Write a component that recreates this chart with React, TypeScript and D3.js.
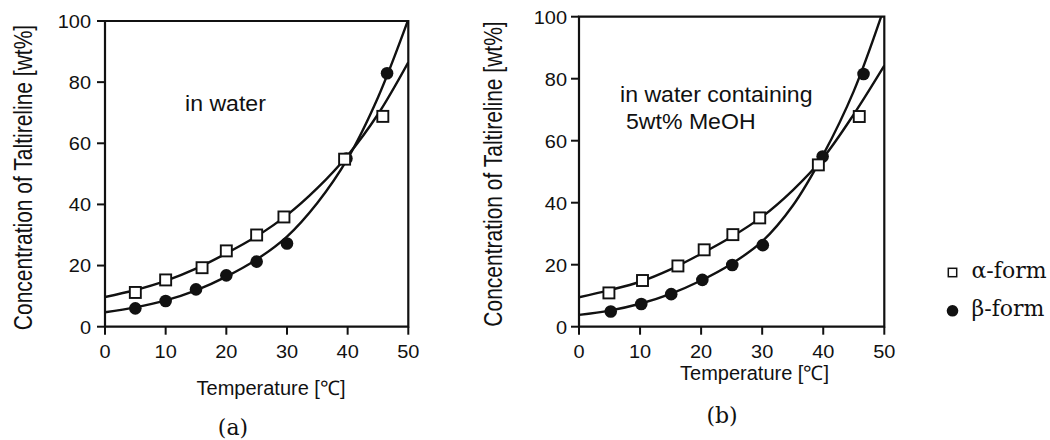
import React from "react";
import * as d3 from "d3";

// ---- data ----
const fitTemps = [0, 5, 10, 15, 20, 25, 30, 35, 40, 45, 50];
const xTicks = [0, 10, 20, 30, 40, 50];
const yTicks = [0, 20, 40, 60, 80, 100];

// Panel (a): in water
const alphaTempA = [5, 10, 16, 20, 25, 29.5, 39.5, 45.8];
const alphaConcA = [11.2, 15.3, 19.3, 24.8, 30.0, 35.9, 54.8, 68.8];
const betaTempA = [5, 10, 15, 20, 25, 30, 39.8, 46.5];
const betaConcA = [6.0, 8.4, 12.2, 16.8, 21.3, 27.2, 55.0, 82.9];
const alphaFitA = [9.7, 12.0, 15.0, 19.0, 24.0, 29.6, 36.5, 45.3, 56.0, 69.5, 86.5];
const betaFitA = [4.7, 6.3, 8.6, 11.9, 16.4, 22.0, 29.5, 40.5, 55.0, 75.0, 100.5];

// Panel (b): in water containing 5wt% MeOH
const alphaTempB = [4.9, 10.4, 16.2, 20.5, 25.2, 29.6, 39.2, 45.9];
const alphaConcB = [10.9, 14.9, 19.6, 24.8, 29.7, 35.1, 52.2, 67.8];
const betaTempB = [5.2, 10.2, 15.1, 20.2, 25.1, 30.1, 39.9, 46.6];
const betaConcB = [4.9, 7.3, 10.5, 15.1, 19.9, 26.3, 54.9, 81.5];
const alphaFitB = [9.5, 11.8, 14.5, 18.5, 23.5, 29.0, 35.5, 44.0, 54.5, 68.5, 84.2];
const betaFitB = [3.8, 5.2, 7.4, 10.6, 14.9, 20.3, 27.5, 39.0, 55.5, 76.0, 103.0];

const legendLabels = ["α-form", "β-form"];
const panelLabels = ["(a)", "(b)"];
const noteA = ["in water"];
const noteB = ["in water containing", "5wt% MeOH"];
const xTitle = "Temperature [℃]";
const yTitle = "Concentration of Taltireline [wt%]";

// ---- styling ----
const SANS = "'Liberation Sans', Arial, Helvetica, sans-serif";
const SERIF = "'DejaVu Serif', 'Liberation Serif', serif";
const INK = "#111";

type PanelProps = {
  id: string;
  x0: number;
  x1: number;
  yTop: number;
  yBottom: number;
  alphaT: number[];
  alphaC: number[];
  betaT: number[];
  betaC: number[];
  alphaFit: number[];
  betaFit: number[];
  note: string[];
  noteX: number[];
  noteY: number[];
  yLabelGap: number;
  yTitleX: number;
  yTitleY: number;
  xTitleX: number;
  xTitleY: number;
  label: string;
  labelX: number;
  labelY: number;
};

function SText(props: {
  x: number;
  y: number;
  anchor?: string;
  size: number;
  family?: string;
  dy?: string;
  sx?: number;
  children: React.ReactNode;
}) {
  const { x, y, anchor = "start", size, family = SANS, dy, sx = 1, children } = props;
  return (
    <text
      transform={`translate(${x},${y}) scale(${sx},1)`}
      textAnchor={anchor}
      fontSize={size}
      fontFamily={family}
      dy={dy}
      fill={INK}
    >
      {children}
    </text>
  );
}

function Panel(p: PanelProps) {
  const x = d3.scaleLinear().domain([0, 50]).range([p.x0, p.x1]);
  const y = d3.scaleLinear().domain([0, 100]).range([p.yBottom, p.yTop]);
  const line = d3
    .line<[number, number]>()
    .x((d) => x(d[0]))
    .y((d) => y(d[1]))
    .curve(d3.curveCatmullRom.alpha(0.5));
  const aFit = line(fitTemps.map((t, i) => [t, p.alphaFit[i]] as [number, number])) || "";
  const bFit = line(fitTemps.map((t, i) => [t, p.betaFit[i]] as [number, number])) || "";
  const tick = 8;
  const sq = 11;
  return (
    <g>
      <defs>
        <clipPath id={`clip-${p.id}`}>
          <rect x={p.x0} y={p.yTop} width={p.x1 - p.x0} height={p.yBottom - p.yTop} />
        </clipPath>
      </defs>
      {/* frame */}
      <path
        d={`M${p.x0},${p.yTop}H${p.x1}V${p.yBottom}H${p.x0}Z`}
        fill="none"
        stroke={INK}
        strokeWidth={2.2}
      />
      {/* y ticks */}
      {yTicks.map((v) => (
        <g key={`yt${v}`}>
          <line x1={p.x0 - tick} x2={p.x0} y1={y(v)} y2={y(v)} stroke={INK} strokeWidth={2} />
          <SText x={p.x0 - p.yLabelGap} y={y(v)} anchor="end" size={19} dy="0.36em" sx={1.05}>
            {v}
          </SText>
        </g>
      ))}
      {/* x ticks */}
      {xTicks.map((v) => (
        <g key={`xt${v}`}>
          <line x1={x(v)} x2={x(v)} y1={p.yBottom} y2={p.yBottom + tick} stroke={INK} strokeWidth={2} />
          <SText x={x(v)} y={p.yBottom + 31} anchor="middle" size={19} sx={1.05}>
            {v}
          </SText>
        </g>
      ))}
      {/* fitted curves */}
      <g clipPath={`url(#clip-${p.id})`}>
        <path d={aFit} fill="none" stroke={INK} strokeWidth={2.4} />
        <path d={bFit} fill="none" stroke={INK} strokeWidth={2.4} />
      </g>
      {/* beta points */}
      {p.betaT.map((t, i) => (
        <circle key={`b${i}`} cx={x(t)} cy={y(p.betaC[i])} r={6.3} fill={INK} />
      ))}
      {/* alpha points */}
      {p.alphaT.map((t, i) => (
        <rect
          key={`a${i}`}
          x={x(t) - sq / 2}
          y={y(p.alphaC[i]) - sq / 2}
          width={sq}
          height={sq}
          fill="#fff"
          stroke={INK}
          strokeWidth={1.9}
        />
      ))}
      {/* note */}
      {p.note.map((s, i) => (
        <SText key={`n${i}`} x={p.noteX[i]} y={p.noteY[i]} size={22} sx={1.05}>
          {s}
        </SText>
      ))}
      {/* axis titles */}
      <text
        transform={`translate(${p.yTitleX},${p.yTitleY}) rotate(-90) scale(1,1.2)`}
        textAnchor="middle"
        fontSize={21}
        fontFamily={SANS}
        fill={INK}
      >
        {yTitle}
      </text>
      <SText x={p.xTitleX} y={p.xTitleY} anchor="middle" size={20}>
        {xTitle}
      </SText>
      <SText x={p.labelX} y={p.labelY} anchor="middle" size={22} family={SERIF}>
        {p.label}
      </SText>
    </g>
  );
}

export default function App() {
  return (
    <svg
      width={1050}
      height={440}
      viewBox="0 0 1050 440"
      style={{ position: "absolute", left: 0, top: 0, background: "#fff" }}
    >
      <rect x={0} y={0} width={1050} height={440} fill="#fff" />
      <Panel
        id="a"
        x0={105}
        x1={408.3}
        yTop={21}
        yBottom={326.7}
        alphaT={alphaTempA}
        alphaC={alphaConcA}
        betaT={betaTempA}
        betaC={betaConcA}
        alphaFit={alphaFitA}
        betaFit={betaFitA}
        note={noteA}
        noteX={[185]}
        noteY={[111]}
        yLabelGap={14}
        yTitleX={32}
        yTitleY={177.5}
        xTitleX={271}
        xTitleY={395}
        label={panelLabels[0]}
        labelX={233}
        labelY={435}
      />
      <Panel
        id="b"
        x0={579}
        x1={884.3}
        yTop={16.7}
        yBottom={326.7}
        alphaT={alphaTempB}
        alphaC={alphaConcB}
        betaT={betaTempB}
        betaC={betaConcB}
        alphaFit={alphaFitB}
        betaFit={betaFitB}
        note={noteB}
        noteX={[620, 626]}
        noteY={[102, 129]}
        yLabelGap={12}
        yTitleX={502}
        yTitleY={174}
        xTitleX={754.5}
        xTitleY={380}
        label={panelLabels[1]}
        labelX={722}
        labelY={423}
      />
      {/* legend */}
      <rect x={948.3} y={268.3} width={8.4} height={8.4} fill="#fff" stroke={INK} strokeWidth={1.5} />
      <circle cx={952.5} cy={310.8} r={5.8} fill={INK} />
      <text x={971.5} y={278} fontSize={22} fontFamily={SERIF} fill={INK}>
        {legendLabels[0]}
      </text>
      <text x={971.5} y={316} fontSize={22} fontFamily={SERIF} fill={INK}>
        {legendLabels[1]}
      </text>
    </svg>
  );
}
